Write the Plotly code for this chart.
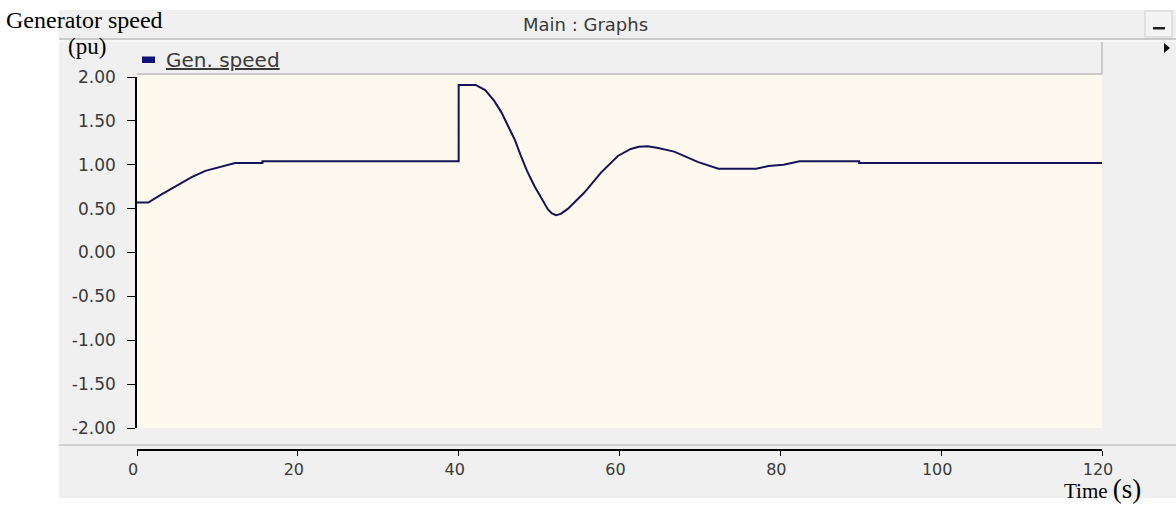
import plotly.graph_objects as go

# ---- data ----
time_s = [0, 1.4, 3, 5, 6.8, 8.5, 10, 12.2, 15.6, 15.6,
          40, 40, 42.1, 43.3, 44.4, 45.3, 46.1, 47.0, 47.7, 48.5,
          49.4, 50.3, 51.1, 51.6, 52.1, 52.7, 53.6, 55.6, 57.7, 59.8,
          61.4, 62.4, 63.5, 64.8, 66.8, 69.8, 72.3, 77.0, 78.5, 80.4,
          82.4, 89.8, 89.8, 120]
gen_speed = [0.57, 0.57, 0.66, 0.77, 0.86, 0.93, 0.97, 1.02, 1.02, 1.04,
             1.04, 1.91, 1.91, 1.85, 1.73, 1.60, 1.45, 1.28, 1.11, 0.93,
             0.76, 0.61, 0.49, 0.445, 0.425, 0.44, 0.50, 0.68, 0.91, 1.10,
             1.18, 1.205, 1.21, 1.19, 1.15, 1.03, 0.955, 0.955, 0.985, 1.00,
             1.04, 1.04, 1.02, 1.02]
series_name = "Gen. speed"
x_ticks = [0, 20, 40, 60, 80, 100, 120]
y_ticks = [-2.0, -1.5, -1.0, -0.5, 0.0, 0.5, 1.0, 1.5, 2.0]
y_ticktext = ["-2.00", "-1.50", "-1.00", "-0.50", "0.00", "0.50", "1.00", "1.50", "2.00"]

W, H = 1176, 508
L, R_EDGE, T, B_EDGE = 137, 1102, 77, 450   # plot-area pixel edges
Y_BOTTOM = 428                               # pixel of y=-2.00


def PX(p):
    return (p - L) / (R_EDGE - L)


def PY(q):
    return (B_EDGE - q) / (B_EDGE - T)


def rect(x0, y0, x1, y1, fill, line=None):
    return dict(type="rect", xref="paper", yref="paper", layer="below",
                x0=PX(x0), x1=PX(x1), y0=PY(y1), y1=PY(y0),
                fillcolor=fill,
                line=dict(width=1 if line else 0, color=line or "rgba(0,0,0,0)"))


def hline(x0, x1, y, color, width=1):
    return dict(type="line", xref="paper", yref="paper", layer="below",
                x0=PX(x0), x1=PX(x1), y0=PY(y), y1=PY(y),
                line=dict(color=color, width=width))


def vline(x, y0, y1, color, width=1):
    return dict(type="line", xref="paper", yref="paper", layer="below",
                x0=PX(x), x1=PX(x), y0=PY(y0), y1=PY(y1),
                line=dict(color=color, width=width))


GREY = "#f0f0f0"
BEIGE = "#fdf9ee"
EDGE = "#a3a3a3"
TXT = "#3a3a3a"
SANS = "DejaVu Sans"
SERIF = "Liberation Serif"

shapes = [
    rect(59, 10, 1176, 498, GREY),                 # window panel
    hline(59, 1176, 39, EDGE),                     # title bar bottom
    hline(59, 1176, 41, "#ffffff"),
    rect(1145, 11, 1172, 37, "#f4f4f4", "#d0d0d0"),  # minimise button
    rect(1153, 27, 1165, 29.5, "#202020"),
    hline(137, 1102, 74, EDGE),                    # legend strip bottom
    vline(1102, 42, 74, EDGE),                     # legend strip right
    rect(137, 75, 1102, Y_BOTTOM, BEIGE),          # plot background
    hline(59, 1176, 445, "#b0b0b0"),               # separator above x axis
    rect(142, 56.5, 155, 63, "#10107a"),           # legend swatch
    dict(type="path", xref="paper", yref="paper", layer="below",
         path=f"M {PX(1164)} {PY(43)} L {PX(1170)} {PY(48)} L {PX(1164)} {PY(53)} Z",
         fillcolor="#111111", line=dict(width=0)),
]

annotations = [
    dict(text="Main : Graphs", x=PX(585), y=PY(25), xref="paper", yref="paper",
         showarrow=False, font=dict(family=SANS, size=18, color=TXT),
         xanchor="center", yanchor="middle"),
    dict(text="<u>" + series_name + "</u>", x=PX(164), y=PY(60), xref="paper", yref="paper",
         showarrow=False, font=dict(family=SANS, size=20, color=TXT),
         xanchor="left", yanchor="middle"),
    dict(text="Generator speed", x=PX(4), y=PY(20), xref="paper", yref="paper",
         showarrow=False, font=dict(family=SERIF, size=24, color="#000000"),
         xanchor="left", yanchor="middle"),
    dict(text="(pu)", x=PX(66), y=PY(47), xref="paper", yref="paper",
         showarrow=False, font=dict(family=SERIF, size=23, color="#000000"),
         xanchor="left", yanchor="middle"),
    dict(text="Time <span style='font-size:27px'>(s)</span>", x=PX(1143), y=PY(489),
         xref="paper", yref="paper",
         showarrow=False, font=dict(family=SERIF, size=21, color="#000000"),
         xanchor="right", yanchor="middle"),
]

fig = go.Figure()
fig.add_trace(go.Scatter(x=time_s, y=gen_speed, mode="lines", name=series_name,
                         line=dict(color="#14145a", width=2), showlegend=False))

fig.update_layout(
    width=W, height=H, autosize=False,
    margin=dict(l=L, r=W - R_EDGE, t=T, b=H - B_EDGE, pad=0),
    paper_bgcolor="#ffffff", plot_bgcolor="rgba(0,0,0,0)",
    shapes=shapes, annotations=annotations, showlegend=False,
    xaxis=dict(range=[0, 120], tickvals=x_ticks, ticks="outside", ticklen=5,
               tickcolor="#000000", showline=True, linecolor="#000000", linewidth=2,
               showgrid=False, zeroline=False, anchor="free", position=0,
               tickfont=dict(family=SANS, size=16, color=TXT), ticklabelshift=-4),
    yaxis=dict(range=[-2, 2], domain=[PY(Y_BOTTOM), 1], tickvals=y_ticks, ticktext=y_ticktext,
               ticks="outside", ticklen=8, tickcolor="#000000", showline=True,
               linecolor="#000000", linewidth=1.5, showgrid=False, zeroline=False,
               tickfont=dict(family=SANS, size=17, color=TXT), ticklabelstandoff=8),
)

fig.write_html("out.html", config={"displayModeBar": False},
               post_script="document.body.style.margin='0';document.body.style.overflow='hidden';")
